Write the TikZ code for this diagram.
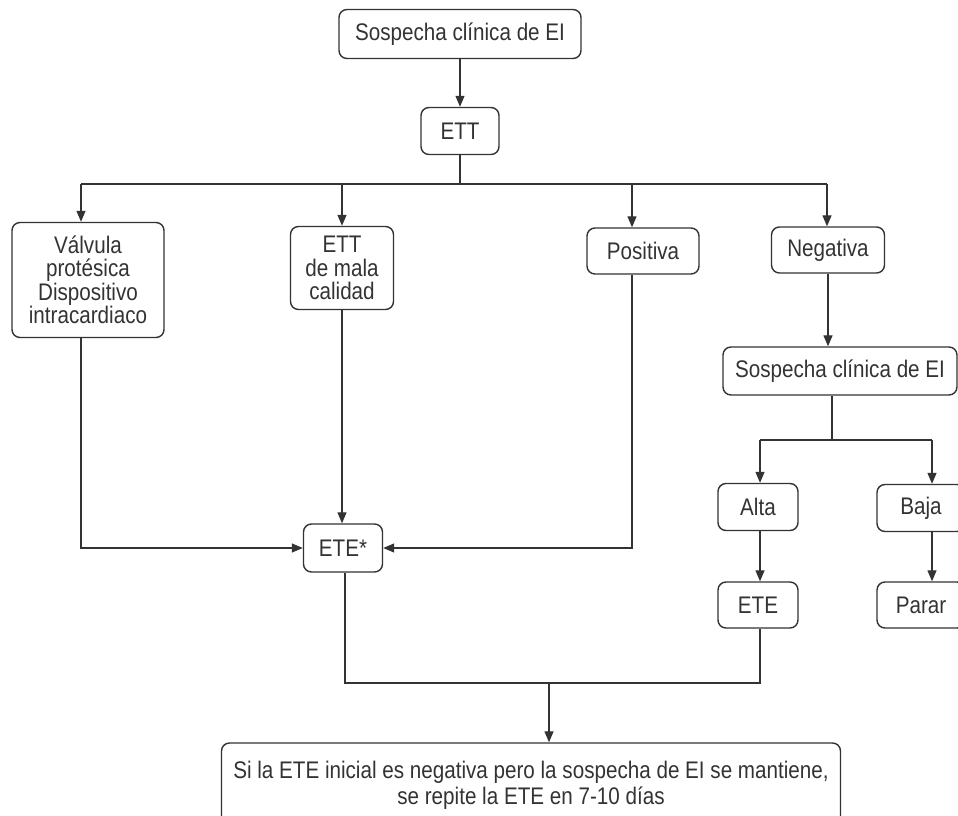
\documentclass[tikz,border=0pt]{standalone}
\usepackage{fontspec}
\setmainfont{Liberation Sans}[FakeStretch=0.86]
\usetikzlibrary{arrows.meta}
\definecolor{ink}{HTML}{333333}
\begin{document}
\begin{tikzpicture}[x=1pt,y=-1pt,
  box/.style={draw=ink, line width=1.4pt, rounded corners=8pt, text=ink,
    font=\fontsize{24}{23.5}\selectfont, align=center, inner sep=0pt},
  link/.style={draw=ink, line width=1.3pt},
  arr/.style={link, -{Triangle[length=11pt,width=9pt]}}]
\useasboundingbox (0,0) rectangle (958,816);
\begin{scope}
\clip (0,0) rectangle (958,816);
% boxes
\node[box, minimum width=242pt, minimum height=49pt] (top) at (460,34) {Sospecha clínica de EI};
\node[box, minimum width=78pt, minimum height=47pt] (ett) at (460,131) {ETT};
\node[box, minimum width=152pt, minimum height=115pt] (valv) at (88,280) {Válvula\\protésica\\Dispositivo\\intracardiaco};
\node[box, minimum width=103pt, minimum height=83pt] (mala) at (342,268) {ETT\\de mala\\calidad};
\node[box, minimum width=112pt, minimum height=46pt] (pos) at (643,251) {Positiva};
\node[box, minimum width=113pt, minimum height=46pt] (neg) at (828,250) {Negativa};
\node[box, minimum width=234pt, minimum height=48pt] (sos) at (840,371) {Sospecha clínica de EI};
\node[box, minimum width=80pt, minimum height=47pt] (alta) at (758,507) {Alta};
\node[box, minimum width=88pt, minimum height=47pt] (baja) at (921,508) {Baja};
\node[box, minimum width=80pt, minimum height=46pt] (ete) at (758,605) {ETE};
\node[box, minimum width=88pt, minimum height=46pt] (parar) at (921,605) {Parar};
\node[box, minimum width=79pt, minimum height=48pt] (etes) at (343,548) {ETE*};
\node[box, minimum width=619pt, minimum height=94pt, text depth=0pt] (fin) at (531,790)
  {\raisebox{14pt}{\shortstack{Si la ETE inicial es negativa pero la sospecha de EI se mantiene,\\se repite la ETE en 7-10 días}}};
% junction points
\coordinate (j1) at (81,184);
\coordinate (j2) at (342,184);
\coordinate (j3) at (632,184);
\coordinate (j4) at (827,184);
\coordinate (k1) at (760,440);
\coordinate (k2) at (932,440);
\coordinate (m1) at (345,683);
\coordinate (m2) at (760,683);
\coordinate (m3) at (549,683);
% connectors
\draw[arr] (top.south -| ett) -- (ett.north);
\draw[link] (ett.south) -- (ett.south |- j1);
\draw[link] (j1) -- (j4);
\draw[arr] (j1) -- (j1 |- valv.north);
\draw[arr] (j2) -- (j2 |- mala.north);
\draw[arr] (j3) -- (j3 |- pos.north);
\draw[arr] (j4) -- (j4 |- neg.north);
\draw[arr] (valv.south -| j1) |- (etes.west);
\draw[arr] (mala.south) -- (mala.south |- etes.north);
\draw[arr] (pos.south -| j3) |- (etes.east);
\draw[arr] (neg.south) -- (neg.south |- sos.north);
\draw[link] (sos.south -| 832,0) -- (832,440);
\draw[link] (k1) -- (k2);
\draw[arr] (k1) -- (k1 |- alta.north);
\draw[arr] (k2) -- (k2 |- baja.north);
\draw[arr] (alta.south -| k1) -- (k1 |- ete.north);
\draw[arr] (baja.south -| k2) -- (k2 |- parar.north);
\draw[link] (etes.south -| m1) -- (m1) -- (m2) -- (ete.south -| m2);
\draw[arr] (m3) -- (m3 |- fin.north);
\end{scope}
\end{tikzpicture}
\end{document}
